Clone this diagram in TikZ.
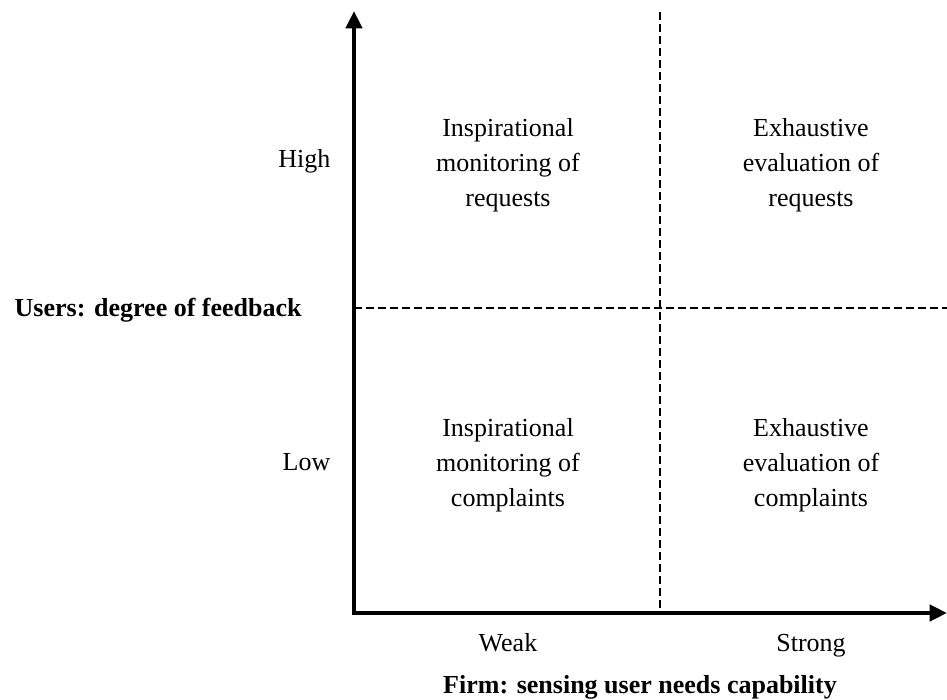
\documentclass[tikz,border=0pt]{standalone}
\usepackage{fontspec}
\setmainfont{Liberation Serif}
\usetikzlibrary{arrows.meta}
\begin{document}
\begin{tikzpicture} [x=0.75pt, y=-0.75pt,
                axis/.style={line width=3.2pt, {Triangle[length=13pt,width=12pt]}-{Triangle[length=13pt,width=12pt]}},
                divider/.style={line width=1pt, dash pattern=on 6pt off 3pt},
                cell/.style={align=center, font=\fontsize{19.5}{26.25}\selectfont},
                level/.style={font=\fontsize{19.5}{26.25}\selectfont},
                axis title/.style={font=\fontsize{19.5}{26.25}\selectfont\bfseries}]
                \useasboundingbox (0,0) rectangle (947,700);
                \coordinate (origin) at (354,613);
                \coordinate (y top) at (354,11);
                \coordinate (x end) at (947,613);
                \coordinate (split top) at (660,12);
                \coordinate (split bottom) at (660,613);
                \coordinate (split left) at (354,308);
                \coordinate (split right) at (947,308);
                % quadrant dividers
                \draw[divider] (split top) -- (split bottom);
                \draw[divider] (split left) -- (split right);
                \draw[axis] (y top) -- (origin) -- (x end);
                % quadrants
                \node[cell] (weak high) at (508,165) {Inspirational\\monitoring of\\requests};
                \node[cell] (strong high) at (811,165) {Exhaustive\\evaluation of\\requests};
                \node[cell] (weak low) at (508,465) {Inspirational\\monitoring of\\complaints};
                \node[cell] (strong low) at (811,465) {Exhaustive\\evaluation of\\complaints};
                % axis labels
                \node[level, anchor=base east] (high) at (335,167) {High};
                \node[level, anchor=base east] (low) at (335,470) {Low};
                \node[axis title, anchor=west] (users) at (10,310) {Users: degree of feedback};
                \node[level, anchor=base] (weak) at (508,651) {Weak};
                \node[level, anchor=base] (strong) at (811,651) {Strong};
                \node[axis title] (firm) at (640,687) {Firm: sensing user needs capability};
            \end{tikzpicture}
\end{document}
